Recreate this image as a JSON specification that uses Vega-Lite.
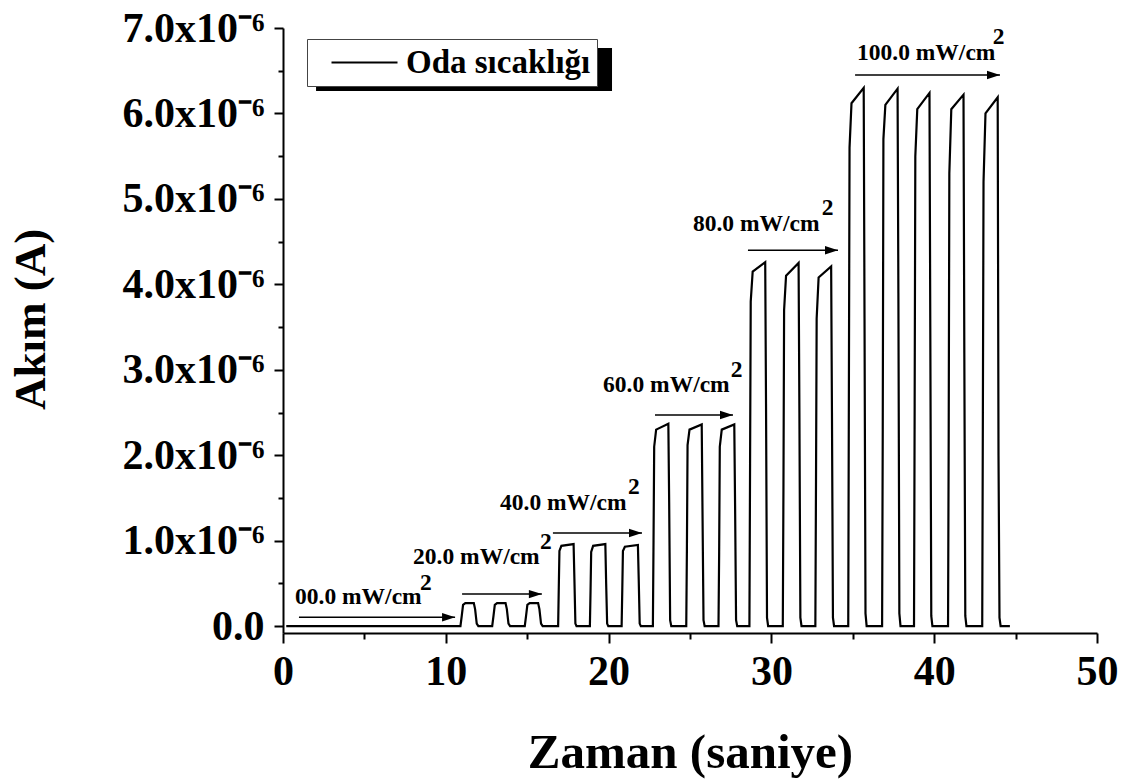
{
  "$schema": "https://vega.github.io/schema/vega-lite/v6.json",
  "width": 814,
  "height": 605,
  "autosize": {"type": "none"},
  "padding": {"left": 283, "top": 28, "right": 24, "bottom": 147},
  "background": "white",
  "config": {"view": {"stroke": null}, "font": "Liberation Serif"},
  "datasets": {
    "current": [
      {"zaman": 0.2, "akim": 0, "series": "Oda sıcaklığı"},
      {"zaman": 5.0, "akim": 0, "series": "Oda sıcaklığı"},
      {"zaman": 10.9, "akim": 0, "series": "Oda sıcaklığı"},
      {"zaman": 10.98, "akim": 0.12e-6, "series": "Oda sıcaklığı"},
      {"zaman": 11.06, "akim": 0.25e-6, "series": "Oda sıcaklığı"},
      {"zaman": 11.2, "akim": 0.27e-6, "series": "Oda sıcaklığı"},
      {"zaman": 11.72, "akim": 0.27e-6, "series": "Oda sıcaklığı"},
      {"zaman": 11.8, "akim": 0.2e-6, "series": "Oda sıcaklığı"},
      {"zaman": 11.9, "akim": 0.03e-6, "series": "Oda sıcaklığı"},
      {"zaman": 12.0, "akim": 0, "series": "Oda sıcaklığı"},
      {"zaman": 12.85, "akim": 0, "series": "Oda sıcaklığı"},
      {"zaman": 12.93, "akim": 0.12e-6, "series": "Oda sıcaklığı"},
      {"zaman": 13.01, "akim": 0.25e-6, "series": "Oda sıcaklığı"},
      {"zaman": 13.15, "akim": 0.27e-6, "series": "Oda sıcaklığı"},
      {"zaman": 13.67, "akim": 0.27e-6, "series": "Oda sıcaklığı"},
      {"zaman": 13.75, "akim": 0.2e-6, "series": "Oda sıcaklığı"},
      {"zaman": 13.85, "akim": 0.03e-6, "series": "Oda sıcaklığı"},
      {"zaman": 13.95, "akim": 0, "series": "Oda sıcaklığı"},
      {"zaman": 14.85, "akim": 0, "series": "Oda sıcaklığı"},
      {"zaman": 14.93, "akim": 0.12e-6, "series": "Oda sıcaklığı"},
      {"zaman": 15.01, "akim": 0.25e-6, "series": "Oda sıcaklığı"},
      {"zaman": 15.15, "akim": 0.27e-6, "series": "Oda sıcaklığı"},
      {"zaman": 15.67, "akim": 0.27e-6, "series": "Oda sıcaklığı"},
      {"zaman": 15.75, "akim": 0.2e-6, "series": "Oda sıcaklığı"},
      {"zaman": 15.85, "akim": 0.03e-6, "series": "Oda sıcaklığı"},
      {"zaman": 15.95, "akim": 0, "series": "Oda sıcaklığı"},
      {"zaman": 16.9, "akim": 0, "series": "Oda sıcaklığı"},
      {"zaman": 16.94, "akim": 0.45e-6, "series": "Oda sıcaklığı"},
      {"zaman": 16.98, "akim": 0.88e-6, "series": "Oda sıcaklığı"},
      {"zaman": 17.1, "akim": 0.94e-6, "series": "Oda sıcaklığı"},
      {"zaman": 17.85, "akim": 0.96e-6, "series": "Oda sıcaklığı"},
      {"zaman": 17.9, "akim": 0.55e-6, "series": "Oda sıcaklığı"},
      {"zaman": 17.96, "akim": 0.03e-6, "series": "Oda sıcaklığı"},
      {"zaman": 18.03, "akim": 0, "series": "Oda sıcaklığı"},
      {"zaman": 18.85, "akim": 0, "series": "Oda sıcaklığı"},
      {"zaman": 18.89, "akim": 0.4e-6, "series": "Oda sıcaklığı"},
      {"zaman": 18.93, "akim": 0.87e-6, "series": "Oda sıcaklığı"},
      {"zaman": 19.05, "akim": 0.94e-6, "series": "Oda sıcaklığı"},
      {"zaman": 19.8, "akim": 0.96e-6, "series": "Oda sıcaklığı"},
      {"zaman": 19.85, "akim": 0.5e-6, "series": "Oda sıcaklığı"},
      {"zaman": 19.91, "akim": 0.03e-6, "series": "Oda sıcaklığı"},
      {"zaman": 19.98, "akim": 0, "series": "Oda sıcaklığı"},
      {"zaman": 20.8, "akim": 0, "series": "Oda sıcaklığı"},
      {"zaman": 20.84, "akim": 0.42e-6, "series": "Oda sıcaklığı"},
      {"zaman": 20.88, "akim": 0.88e-6, "series": "Oda sıcaklığı"},
      {"zaman": 21.0, "akim": 0.93e-6, "series": "Oda sıcaklığı"},
      {"zaman": 21.8, "akim": 0.95e-6, "series": "Oda sıcaklığı"},
      {"zaman": 21.85, "akim": 0.55e-6, "series": "Oda sıcaklığı"},
      {"zaman": 21.91, "akim": 0.03e-6, "series": "Oda sıcaklığı"},
      {"zaman": 21.98, "akim": 0, "series": "Oda sıcaklığı"},
      {"zaman": 22.72, "akim": 0, "series": "Oda sıcaklığı"},
      {"zaman": 22.76, "akim": 1.0e-6, "series": "Oda sıcaklığı"},
      {"zaman": 22.8, "akim": 2.1e-6, "series": "Oda sıcaklığı"},
      {"zaman": 22.92, "akim": 2.3e-6, "series": "Oda sıcaklığı"},
      {"zaman": 23.67, "akim": 2.37e-6, "series": "Oda sıcaklığı"},
      {"zaman": 23.72, "akim": 1.45e-6, "series": "Oda sıcaklığı"},
      {"zaman": 23.78, "akim": 0.07e-6, "series": "Oda sıcaklığı"},
      {"zaman": 23.85, "akim": 0, "series": "Oda sıcaklığı"},
      {"zaman": 24.77, "akim": 0, "series": "Oda sıcaklığı"},
      {"zaman": 24.81, "akim": 0.9e-6, "series": "Oda sıcaklığı"},
      {"zaman": 24.85, "akim": 2.12e-6, "series": "Oda sıcaklığı"},
      {"zaman": 24.97, "akim": 2.3e-6, "series": "Oda sıcaklığı"},
      {"zaman": 25.72, "akim": 2.36e-6, "series": "Oda sıcaklığı"},
      {"zaman": 25.77, "akim": 1.3e-6, "series": "Oda sıcaklığı"},
      {"zaman": 25.83, "akim": 0.07e-6, "series": "Oda sıcaklığı"},
      {"zaman": 25.9, "akim": 0, "series": "Oda sıcaklığı"},
      {"zaman": 26.75, "akim": 0, "series": "Oda sıcaklığı"},
      {"zaman": 26.79, "akim": 0.85e-6, "series": "Oda sıcaklığı"},
      {"zaman": 26.83, "akim": 2.1e-6, "series": "Oda sıcaklığı"},
      {"zaman": 26.95, "akim": 2.3e-6, "series": "Oda sıcaklığı"},
      {"zaman": 27.72, "akim": 2.36e-6, "series": "Oda sıcaklığı"},
      {"zaman": 27.77, "akim": 1.4e-6, "series": "Oda sıcaklığı"},
      {"zaman": 27.83, "akim": 0.07e-6, "series": "Oda sıcaklığı"},
      {"zaman": 27.9, "akim": 0, "series": "Oda sıcaklığı"},
      {"zaman": 28.65, "akim": 0, "series": "Oda sıcaklığı"},
      {"zaman": 28.69, "akim": 1.9e-6, "series": "Oda sıcaklığı"},
      {"zaman": 28.73, "akim": 3.8e-6, "series": "Oda sıcaklığı"},
      {"zaman": 28.85, "akim": 4.15e-6, "series": "Oda sıcaklığı"},
      {"zaman": 29.62, "akim": 4.26e-6, "series": "Oda sıcaklığı"},
      {"zaman": 29.67, "akim": 2.6e-6, "series": "Oda sıcaklığı"},
      {"zaman": 29.73, "akim": 0.1e-6, "series": "Oda sıcaklığı"},
      {"zaman": 29.8, "akim": 0, "series": "Oda sıcaklığı"},
      {"zaman": 30.7, "akim": 0, "series": "Oda sıcaklığı"},
      {"zaman": 30.74, "akim": 1.6e-6, "series": "Oda sıcaklığı"},
      {"zaman": 30.78, "akim": 3.7e-6, "series": "Oda sıcaklığı"},
      {"zaman": 30.9, "akim": 4.1e-6, "series": "Oda sıcaklığı"},
      {"zaman": 31.67, "akim": 4.25e-6, "series": "Oda sıcaklığı"},
      {"zaman": 31.72, "akim": 2.5e-6, "series": "Oda sıcaklığı"},
      {"zaman": 31.78, "akim": 0.1e-6, "series": "Oda sıcaklığı"},
      {"zaman": 31.85, "akim": 0, "series": "Oda sıcaklığı"},
      {"zaman": 32.7, "akim": 0, "series": "Oda sıcaklığı"},
      {"zaman": 32.74, "akim": 1.7e-6, "series": "Oda sıcaklığı"},
      {"zaman": 32.78, "akim": 3.6e-6, "series": "Oda sıcaklığı"},
      {"zaman": 32.9, "akim": 4.08e-6, "series": "Oda sıcaklığı"},
      {"zaman": 33.67, "akim": 4.21e-6, "series": "Oda sıcaklığı"},
      {"zaman": 33.72, "akim": 2.5e-6, "series": "Oda sıcaklığı"},
      {"zaman": 33.78, "akim": 0.1e-6, "series": "Oda sıcaklığı"},
      {"zaman": 33.85, "akim": 0, "series": "Oda sıcaklığı"},
      {"zaman": 34.72, "akim": 0, "series": "Oda sıcaklığı"},
      {"zaman": 34.76, "akim": 2.8e-6, "series": "Oda sıcaklığı"},
      {"zaman": 34.8, "akim": 5.6e-6, "series": "Oda sıcaklığı"},
      {"zaman": 34.92, "akim": 6.12e-6, "series": "Oda sıcaklığı"},
      {"zaman": 35.67, "akim": 6.3e-6, "series": "Oda sıcaklığı"},
      {"zaman": 35.72, "akim": 3.6e-6, "series": "Oda sıcaklığı"},
      {"zaman": 35.78, "akim": 0.15e-6, "series": "Oda sıcaklığı"},
      {"zaman": 35.85, "akim": 0, "series": "Oda sıcaklığı"},
      {"zaman": 36.8, "akim": 0, "series": "Oda sıcaklığı"},
      {"zaman": 36.84, "akim": 2.3e-6, "series": "Oda sıcaklığı"},
      {"zaman": 36.88, "akim": 5.7e-6, "series": "Oda sıcaklığı"},
      {"zaman": 37.0, "akim": 6.1e-6, "series": "Oda sıcaklığı"},
      {"zaman": 37.75, "akim": 6.29e-6, "series": "Oda sıcaklığı"},
      {"zaman": 37.8, "akim": 3.9e-6, "series": "Oda sıcaklığı"},
      {"zaman": 37.86, "akim": 0.15e-6, "series": "Oda sıcaklığı"},
      {"zaman": 37.93, "akim": 0, "series": "Oda sıcaklığı"},
      {"zaman": 38.76, "akim": 0, "series": "Oda sıcaklığı"},
      {"zaman": 38.8, "akim": 2.6e-6, "series": "Oda sıcaklığı"},
      {"zaman": 38.84, "akim": 5.5e-6, "series": "Oda sıcaklığı"},
      {"zaman": 38.96, "akim": 6.05e-6, "series": "Oda sıcaklığı"},
      {"zaman": 39.71, "akim": 6.24e-6, "series": "Oda sıcaklığı"},
      {"zaman": 39.76, "akim": 3.5e-6, "series": "Oda sıcaklığı"},
      {"zaman": 39.82, "akim": 0.12e-6, "series": "Oda sıcaklığı"},
      {"zaman": 39.89, "akim": 0, "series": "Oda sıcaklığı"},
      {"zaman": 40.85, "akim": 0, "series": "Oda sıcaklığı"},
      {"zaman": 40.89, "akim": 2.2e-6, "series": "Oda sıcaklığı"},
      {"zaman": 40.93, "akim": 5.3e-6, "series": "Oda sıcaklığı"},
      {"zaman": 41.05, "akim": 6.05e-6, "series": "Oda sıcaklığı"},
      {"zaman": 41.8, "akim": 6.22e-6, "series": "Oda sıcaklığı"},
      {"zaman": 41.85, "akim": 3.2e-6, "series": "Oda sıcaklığı"},
      {"zaman": 41.91, "akim": 0.12e-6, "series": "Oda sıcaklığı"},
      {"zaman": 41.98, "akim": 0, "series": "Oda sıcaklığı"},
      {"zaman": 42.95, "akim": 0, "series": "Oda sıcaklığı"},
      {"zaman": 42.99, "akim": 2.5e-6, "series": "Oda sıcaklığı"},
      {"zaman": 43.03, "akim": 5.2e-6, "series": "Oda sıcaklığı"},
      {"zaman": 43.15, "akim": 6.0e-6, "series": "Oda sıcaklığı"},
      {"zaman": 43.9, "akim": 6.19e-6, "series": "Oda sıcaklığı"},
      {"zaman": 43.95, "akim": 2.0e-6, "series": "Oda sıcaklığı"},
      {"zaman": 44.01, "akim": 0.1e-6, "series": "Oda sıcaklığı"},
      {"zaman": 44.08, "akim": 0, "series": "Oda sıcaklığı"},
      {"zaman": 44.65, "akim": 0, "series": "Oda sıcaklığı"}
    ],
    "arrows": [
      {"from": 0.98, "to": 10.57, "level": 0.105e-6},
      {"from": 11.0, "to": 15.9, "level": 0.375e-6},
      {"from": 16.58, "to": 22.05, "level": 1.09e-6},
      {"from": 22.85, "to": 27.64, "level": 2.47e-6},
      {"from": 28.56, "to": 34.09, "level": 4.40e-6},
      {"from": 35.14, "to": 44.04, "level": 6.45e-6}
    ],
    "labels": [
      {"px": 0.74, "py": 0.258e-6, "label": "00.0 mW/cm"},
      {"px": 8.41, "py": 0.42e-6, "label": "2"},
      {"px": 7.99, "py": 0.728e-6, "label": "20.0 mW/cm"},
      {"px": 15.79, "py": 0.905e-6, "label": "2"},
      {"px": 13.33, "py": 1.36e-6, "label": "40.0 mW/cm"},
      {"px": 21.19, "py": 1.545e-6, "label": "2"},
      {"px": 19.66, "py": 2.74e-6, "label": "60.0 mW/cm"},
      {"px": 27.5, "py": 2.91e-6, "label": "2"},
      {"px": 25.18, "py": 4.62e-6, "label": "80.0 mW/cm"},
      {"px": 33.1, "py": 4.81e-6, "label": "2"},
      {"px": 35.26, "py": 6.63e-6, "label": "100.0 mW/cm"},
      {"px": 43.6, "py": 6.81e-6, "label": "2"}
    ],
    "shadow": [
      {"sx1": 2.03, "sx2": 20.21, "sy1": 6.766e-6, "sy2": 6.262e-6}
    ]
  },
  "layer": [
    {
      "data": {"name": "shadow"},
      "mark": {"type": "rect", "color": "black"},
      "encoding": {
        "x": {"field": "sx1", "type": "quantitative", "scale": {"domain": [0, 50], "nice": false, "zero": false}},
        "x2": {"field": "sx2"},
        "y": {"field": "sy1", "type": "quantitative", "scale": {"domain": [-0.08e-6, 7e-6], "nice": false, "zero": false}},
        "y2": {"field": "sy2"}
      }
    },
    {
      "data": {"name": "current"},
      "mark": {"type": "line", "strokeWidth": 2.2, "strokeJoin": "miter"},
      "encoding": {
        "x": {
          "field": "zaman", "type": "quantitative",
          "scale": {"domain": [0, 50], "nice": false, "zero": false},
          "axis": {
            "values": [0, 5, 10, 15, 20, 25, 30, 35, 40, 45, 50],
            "labelExpr": "datum.value % 10 === 0 ? format(datum.value, 'd') : ''",
            "tickSize": {"condition": {"test": "datum.value % 10 === 0", "value": 10}, "value": 6},
            "tickColor": "black", "tickWidth": 2,
            "domainColor": "black", "domainWidth": 2,
            "grid": false,
            "labelFont": "Liberation Serif", "labelFontWeight": "bold", "labelFontSize": 42, "labelColor": "black",
            "labelPadding": 8, "labelOverlap": false, "labelFlush": false, "labelBound": false,
            "title": "Zaman (saniye)",
            "titleFont": "Liberation Serif", "titleFontWeight": "bold", "titleFontSize": 49, "titleColor": "black",
            "titlePadding": 36
          }
        },
        "y": {
          "field": "akim", "type": "quantitative",
          "scale": {"domain": [-0.08e-6, 7e-6], "nice": false, "zero": false},
          "axis": {
            "values": [0, 5e-7, 1e-6, 1.5e-6, 2e-6, 2.5e-6, 3e-6, 3.5e-6, 4e-6, 4.5e-6, 5e-6, 5.5e-6, 6e-6, 6.5e-6, 7e-6],
            "labelExpr": "round(datum.value * 2e6) % 2 === 0 ? (datum.value === 0 ? '0.0' : format(datum.value * 1e6, '.1f') + 'x10\u207b\u2076') : ''",
            "tickSize": {"condition": {"test": "round(datum.value * 2e6) % 2 === 0", "value": 9}, "value": 5},
            "tickColor": "black", "tickWidth": 2,
            "domainColor": "black", "domainWidth": 2,
            "grid": false,
            "labelFont": "Liberation Serif", "labelFontWeight": "bold", "labelFontSize": 42, "labelColor": "black",
            "labelPadding": 10, "labelOverlap": false, "labelBound": false,
            "title": "Akım (A)",
            "titleFont": "Liberation Serif", "titleFontWeight": "bold", "titleFontSize": 45, "titleColor": "black",
            "titlePadding": 68,
            "titleY": 291
          }
        },
        "color": {
          "field": "series", "type": "nominal",
          "scale": {"range": ["black"]},
          "legend": {
            "orient": "none", "legendX": 24, "legendY": 11,
            "title": null,
            "labelFont": "Liberation Serif", "labelFontWeight": "bold", "labelFontSize": 33, "labelColor": "black",
            "labelLimit": 500,
            "symbolType": "M -2 0 L 2 0", "symbolSize": 1089, "symbolStrokeWidth": 2,
            "strokeColor": "#444444", "fillColor": "white",
            "padding": 6, "symbolOffset": 34, "labelOffset": 24
          }
        }
      }
    },
    {
      "data": {"name": "arrows"},
      "mark": {"type": "rule", "color": "black", "strokeWidth": 1.5},
      "encoding": {
        "x": {"field": "from", "type": "quantitative", "scale": {"domain": [0, 50], "nice": false, "zero": false}},
        "x2": {"field": "to"},
        "y": {"field": "level", "type": "quantitative", "scale": {"domain": [-0.08e-6, 7e-6], "nice": false, "zero": false}}
      }
    },
    {
      "data": {"name": "arrows"},
      "mark": {"type": "point", "filled": true, "color": "black", "opacity": 1, "size": 169, "shape": "M -2 -0.65 L 0 0 L -2 0.65 Z"},
      "encoding": {
        "x": {"field": "to", "type": "quantitative", "scale": {"domain": [0, 50], "nice": false, "zero": false}},
        "y": {"field": "level", "type": "quantitative", "scale": {"domain": [-0.08e-6, 7e-6], "nice": false, "zero": false}}
      }
    },
    {
      "data": {"name": "labels"},
      "mark": {"type": "text", "align": "left", "baseline": "alphabetic", "font": "Liberation Serif", "fontWeight": "bold", "fontSize": 23.5, "color": "black"},
      "encoding": {
        "x": {"field": "px", "type": "quantitative", "scale": {"domain": [0, 50], "nice": false, "zero": false}},
        "y": {"field": "py", "type": "quantitative", "scale": {"domain": [-0.08e-6, 7e-6], "nice": false, "zero": false}},
        "text": {"field": "label", "type": "nominal"}
      }
    }
  ]
}
